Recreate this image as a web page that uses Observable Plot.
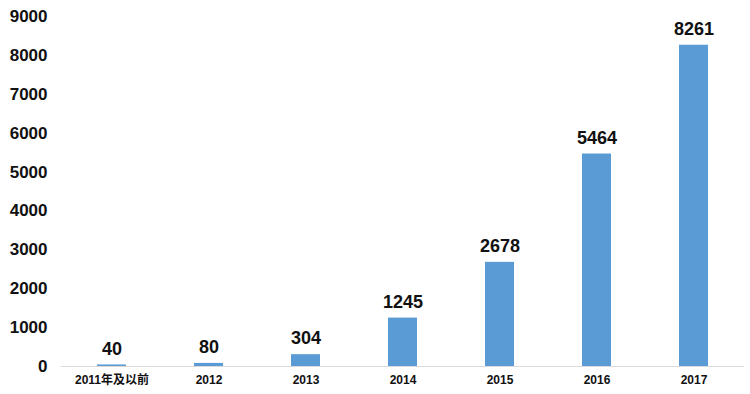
<!DOCTYPE html>
<html>
<head>
<meta charset="utf-8">
<script src="https://cdn.jsdelivr.net/npm/d3@7"></script>
<script src="https://cdn.jsdelivr.net/npm/@observablehq/plot@0.6"></script>
<style>
body { margin: 0; background: #fff; }
svg { font-family: "Liberation Sans", "Noto Sans CJK SC", sans-serif; }
</style>
</head>
<body>
<div id="chart"></div>
<script>
const categories = ["2011年及以前", "2012", "2013", "2014", "2015", "2016", "2017"];
const values = [40, 80, 304, 1245, 2678, 5464, 8261];
const yTicks = [0, 1000, 2000, 3000, 4000, 5000, 6000, 7000, 8000, 9000];

const data = categories.map((c, i) => ({category: c, value: values[i]}));

const chart = Plot.plot({
  width: 750,
  height: 394,
  marginLeft: 61,
  marginRight: 6,
  marginTop: 16,
  marginBottom: 28,
  style: {fontFamily: '"Liberation Sans", "Noto Sans CJK SC", sans-serif', background: "#fff"},
  x: {domain: categories, padding: 0, label: null},
  y: {domain: [0, 9000], label: null},
  marks: [
    Plot.barY(data, {x: "category", y: "value", fill: "#5B9BD5", insetLeft: 34, insetRight: 34}),
    Plot.ruleY([0], {stroke: "#d9d9d9", strokeWidth: 1.2}),
    Plot.axisY(yTicks, {tickSize: 0, tickPadding: 14, tickFormat: "d", fontSize: 17, fontWeight: "bold", fill: "#111", label: null}),
    Plot.axisX({tickSize: 0, tickPadding: 9, fontSize: 12, fontWeight: "bold", fill: "#111", label: null}),
    Plot.text(data, {x: "category", y: "value", text: d => String(d.value), dy: -16, fontSize: 18, fontWeight: "bold", fill: "#111"})
  ]
});
document.getElementById("chart").append(chart);
</script>
</body>
</html>
